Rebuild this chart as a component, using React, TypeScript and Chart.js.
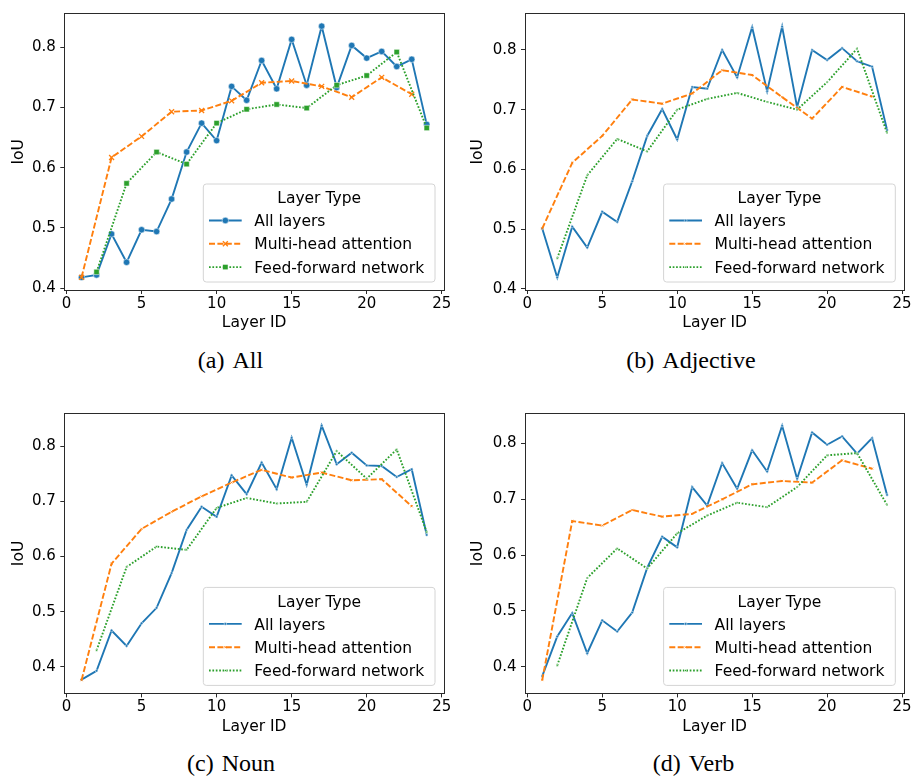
import React, { useEffect, useRef } from "react";
import { Chart, registerables } from "chart.js";

Chart.register(...registerables);

// ---------------- data ----------------
const ALL_LAYERS = [1, 2, 3, 4, 5, 6, 7, 8, 9, 10, 11, 12, 13, 14, 15, 16, 17, 18, 19, 20, 21, 22, 23, 24];
const MHA_LAYERS = [1, 3, 5, 7, 9, 11, 13, 15, 17, 19, 21, 23];
const FFN_LAYERS = [2, 4, 6, 8, 10, 12, 14, 16, 18, 20, 22, 24];

const SERIES_NAMES = ["All layers", "Multi-head attention", "Feed-forward network"];
const LEGEND_TITLE = "Layer Type";
const X_TITLE = "Layer ID";
const Y_TITLE = "IoU";
const X_TICKS = [0, 5, 10, 15, 20, 25];
const Y_TICKS = [0.4, 0.5, 0.6, 0.7, 0.8];

// (a) All
const A_ALL = [0.418, 0.422, 0.490, 0.443, 0.497, 0.494, 0.548, 0.626, 0.674, 0.645, 0.735, 0.712, 0.778, 0.731, 0.813, 0.737, 0.835, 0.733, 0.803, 0.782, 0.793, 0.768, 0.780, 0.672];
const A_MHA = [0.418, 0.617, 0.652, 0.693, 0.695, 0.711, 0.741, 0.744, 0.735, 0.717, 0.750, 0.722];
const A_FFN = [0.427, 0.574, 0.626, 0.606, 0.674, 0.697, 0.705, 0.699, 0.737, 0.753, 0.792, 0.666];

// (b) Adjective
const B_ALL = [0.501, 0.419, 0.504, 0.469, 0.529, 0.512, 0.580, 0.656, 0.701, 0.650, 0.738, 0.735, 0.800, 0.754, 0.838, 0.731, 0.839, 0.704, 0.800, 0.783, 0.803, 0.781, 0.772, 0.666];
const B_MHA = [0.501, 0.611, 0.656, 0.717, 0.710, 0.727, 0.766, 0.758, 0.721, 0.685, 0.738, 0.722];
const B_FFN = [0.451, 0.590, 0.651, 0.630, 0.700, 0.718, 0.728, 0.713, 0.700, 0.746, 0.802, 0.661];

// (c) Noun
const C_ALL = [0.377, 0.393, 0.466, 0.438, 0.479, 0.507, 0.570, 0.648, 0.690, 0.672, 0.747, 0.713, 0.770, 0.722, 0.815, 0.730, 0.837, 0.767, 0.788, 0.765, 0.764, 0.744, 0.758, 0.639];
const C_MHA = [0.376, 0.587, 0.650, 0.681, 0.709, 0.734, 0.757, 0.743, 0.752, 0.738, 0.740, 0.691];
const C_FFN = [0.430, 0.581, 0.618, 0.612, 0.688, 0.706, 0.696, 0.699, 0.791, 0.741, 0.794, 0.644];

// (d) Verb
const D_ALL = [0.383, 0.454, 0.496, 0.424, 0.483, 0.463, 0.497, 0.577, 0.633, 0.614, 0.722, 0.689, 0.765, 0.719, 0.788, 0.750, 0.832, 0.737, 0.820, 0.798, 0.813, 0.782, 0.810, 0.708];
const D_MHA = [0.376, 0.661, 0.653, 0.681, 0.669, 0.674, 0.700, 0.727, 0.733, 0.730, 0.770, 0.755];
const D_FFN = [0.402, 0.559, 0.612, 0.576, 0.639, 0.671, 0.694, 0.686, 0.722, 0.779, 0.783, 0.690];

// ---------------- styling / layout ----------------
const FONT = "'DejaVu Sans', 'Noto Sans', sans-serif";
const XH = 45; // x-axis block height

const SERIES_STYLE = [
  { color: "#1f77b4", dash: [] as number[], point: "circle" },
  { color: "#ff7f0e", dash: [6, 2.4], point: "crossRot" },
  { color: "#2ca02c", dash: [1.7, 1.7], point: "rect" },
];

type PanelDef = {
  label: string;
  name: string;
  all: number[];
  mha: number[];
  ffn: number[];
  yMin: number;
  yMax: number;
  big: boolean;
  cx: number; cy: number; cw: number; ch: number;
  al: number; at: number; ar: number; ab: number;
  capX: number; capY: number;
};

const PANELS: PanelDef[] = [
  { label: "(a)", name: "All", all: A_ALL, mha: A_MHA, ffn: A_FFN, yMin: 0.397, yMax: 0.856, big: true,
    cx: 0, cy: 0, cw: 456, ch: 340, al: 64.3, at: 7.3, ar: 444, ab: 290, capX: 230.5, capY: 362 },
  { label: "(b)", name: "Adjective", all: B_ALL, mha: B_MHA, ffn: B_FFN, yMin: 0.398, yMax: 0.861, big: false,
    cx: 459, cy: 0, cw: 454, ch: 340, al: 525, at: 6.7, ar: 904.3, ab: 290, capX: 691, capY: 362 },
  { label: "(c)", name: "Noun", all: C_ALL, mha: C_MHA, ffn: C_FFN, yMin: 0.352, yMax: 0.859, big: false,
    cx: 0, cy: 400, cw: 456, ch: 340, al: 64.3, at: 410.7, ar: 444, ab: 693.4, capX: 231, capY: 764.5 },
  { label: "(d)", name: "Verb", all: D_ALL, mha: D_MHA, ffn: D_FFN, yMin: 0.352, yMax: 0.854, big: false,
    cx: 459, cy: 400, cw: 454, ch: 340, al: 525, at: 410.7, ar: 904.3, ab: 693.4, capX: 693.5, capY: 764.5 },
];

function alignPx(p: number) {
  return Math.round(p - 0.5) + 0.5;
}

function drawMarker(ctx: CanvasRenderingContext2D, style: string, x: number, y: number, r: number, color: string, big: boolean) {
  ctx.save();
  ctx.setLineDash([]);
  if (style === "circle") {
    ctx.beginPath();
    ctx.arc(x, y, r, 0, Math.PI * 2);
    ctx.fillStyle = color;
    ctx.fill();
    ctx.strokeStyle = "#fff";
    ctx.lineWidth = 0.5;
    ctx.stroke();
  } else if (style === "crossRot") {
    const d = r * Math.SQRT1_2;
    ctx.beginPath();
    ctx.moveTo(x - d, y - d);
    ctx.lineTo(x + d, y + d);
    ctx.moveTo(x - d, y + d);
    ctx.lineTo(x + d, y - d);
    ctx.strokeStyle = color;
    ctx.lineWidth = big ? 1.3 : 0.8;
    ctx.stroke();
  } else {
    const s = r * Math.SQRT1_2;
    ctx.fillStyle = color;
    ctx.fillRect(x - s, y - s, 2 * s, 2 * s);
    ctx.strokeStyle = "#fff";
    ctx.lineWidth = 0.5;
    ctx.strokeRect(x - s, y - s, 2 * s, 2 * s);
  }
  ctx.restore();
}

function Panel({ p }: { p: PanelDef }) {
  const ref = useRef<HTMLCanvasElement | null>(null);

  useEffect(() => {
    if (!ref.current) return;
    const radii = p.big ? [3.2, 3.5, 3.8] : [1.3, 1.5, 1.3];
    const xsList = [ALL_LAYERS, MHA_LAYERS, FFN_LAYERS];
    const ysList = [p.all, p.mha, p.ffn];

    const datasets = SERIES_STYLE.map((s, i) => ({
      label: SERIES_NAMES[i],
      data: xsList[i].map((x, j) => ({ x, y: ysList[i][j] })),
      borderColor: s.color,
      backgroundColor: s.color,
      borderWidth: 1.9,
      borderDash: s.dash,
      pointStyle: s.point as any,
      pointRadius: radii[i],
      pointBackgroundColor: s.color,
      pointBorderColor: s.point === "crossRot" ? s.color : "#ffffff",
      pointBorderWidth: s.point === "crossRot" ? (p.big ? 1.3 : 0.8) : 0.5,
      tension: 0,
      fill: false,
      clip: false as any,
      order: 3 - i,
    }));

    const framePlugin = {
      id: "frameLegend",
      afterDatasetsDraw(chart: any) {
        const ctx: CanvasRenderingContext2D = chart.ctx;
        const a = chart.chartArea;
        ctx.save();
        // frame (spines)
        const l = alignPx(a.left), r = alignPx(a.right), t = alignPx(a.top), b = alignPx(a.bottom);
        ctx.strokeStyle = "#2a2a2a";
        ctx.lineWidth = 1;
        ctx.setLineDash([]);
        ctx.strokeRect(l, t, r - l, b - t);

        // legend
        const bw = 231.7, bh = 98;
        const bx = a.right - 9 - bw;
        const by = a.bottom - 8 - bh;
        ctx.beginPath();
        const rr = 3;
        ctx.moveTo(bx + rr, by);
        ctx.lineTo(bx + bw - rr, by);
        ctx.arcTo(bx + bw, by, bx + bw, by + rr, rr);
        ctx.lineTo(bx + bw, by + bh - rr);
        ctx.arcTo(bx + bw, by + bh, bx + bw - rr, by + bh, rr);
        ctx.lineTo(bx + rr, by + bh);
        ctx.arcTo(bx, by + bh, bx, by + bh - rr, rr);
        ctx.lineTo(bx, by + rr);
        ctx.arcTo(bx, by, bx + rr, by, rr);
        ctx.closePath();
        ctx.fillStyle = "rgba(255,255,255,0.8)";
        ctx.fill();
        ctx.strokeStyle = "#d4d4d4";
        ctx.lineWidth = 1;
        ctx.stroke();

        const fs = 15.5;
        ctx.font = `${fs}px ${FONT}`;
        ctx.fillStyle = "#000";
        ctx.textBaseline = "alphabetic";
        ctx.textAlign = "center";
        const capHalf = 0.729 * fs / 2;
        ctx.fillText(LEGEND_TITLE, bx + bw / 2, by + 13.7 + capHalf);

        ctx.textAlign = "left";
        SERIES_STYLE.forEach((s, i) => {
          const cy = by + 36.5 + 23.3 * i;
          const x0 = bx + 5.7, x1 = bx + 38.4;
          ctx.save();
          ctx.beginPath();
          ctx.setLineDash(s.dash);
          ctx.strokeStyle = s.color;
          ctx.lineWidth = 1.9;
          ctx.moveTo(x0, cy);
          ctx.lineTo(x1, cy);
          ctx.stroke();
          ctx.restore();
          drawMarker(ctx, s.point, (x0 + x1) / 2, cy, radii[i], s.color, p.big);
          ctx.fillStyle = "#000";
          ctx.fillText(SERIES_NAMES[i], bx + 51, cy + capHalf);
        });
        ctx.restore();
      },
    };

    const padTop = p.at - p.cy;
    const padRight = p.cx + p.cw - p.ar;
    const padBottom = p.cy + p.ch - (p.ab + XH);
    const yWidth = p.al - p.cx;

    const chart = new Chart(ref.current, {
      type: "line",
      data: { datasets: datasets as any },
      options: {
        animation: false,
        responsive: false,
        events: [],
        layout: { padding: { left: 0, top: padTop, right: padRight, bottom: padBottom } },
        plugins: {
          legend: { display: false },
          tooltip: { enabled: false },
        },
        scales: {
          x: {
            type: "linear",
            min: -0.15,
            max: 25.15,
            afterBuildTicks: (s: any) => {
              s.ticks = X_TICKS.map((v) => ({ value: v }));
            },
            afterFit: (s: any) => {
              s.height = XH;
            },
            ticks: {
              font: { family: FONT, size: 15 },
              color: "#000",
              padding: 1,
              maxRotation: 0,
              autoSkip: false,
              callback: (v: any) => String(v),
            },
            grid: { display: true, drawOnChartArea: false, drawTicks: true, tickLength: 4, color: "#2a2a2a", lineWidth: 1 },
            border: { display: false },
            title: {
              display: true,
              text: X_TITLE,
              font: { family: FONT, size: 15.5 },
              color: "#000",
              padding: { top: 0, bottom: 2.4 },
            },
          },
          y: {
            type: "linear",
            min: p.yMin,
            max: p.yMax,
            afterBuildTicks: (s: any) => {
              s.ticks = Y_TICKS.map((v) => ({ value: v }));
            },
            afterFit: (s: any) => {
              s.width = yWidth;
            },
            ticks: {
              font: { family: FONT, size: 15 },
              color: "#000",
              padding: 4.5,
              autoSkip: false,
              callback: (v: any) => Number(v).toFixed(1),
            },
            grid: { display: true, drawOnChartArea: false, drawTicks: true, tickLength: 4, color: "#2a2a2a", lineWidth: 1 },
            border: { display: false },
            title: {
              display: true,
              text: Y_TITLE,
              font: { family: FONT, size: 15.5 },
              color: "#000",
              padding: { top: 9.7, bottom: 0 },
            },
          },
        },
      } as any,
      plugins: [framePlugin as any],
    });
    return () => chart.destroy();
  }, [p]);

  return (
    <canvas
      ref={ref}
      width={p.cw}
      height={p.ch}
      style={{ position: "absolute", left: p.cx, top: p.cy, width: p.cw, height: p.ch }}
    />
  );
}

function Caption({ p }: { p: PanelDef }) {
  return (
    <div
      style={{
        position: "absolute",
        left: p.capX - 150,
        top: p.capY - 14,
        width: 300,
        height: 24,
        lineHeight: "24px",
        fontSize: 24,
        fontFamily: "'Liberation Serif', 'Times New Roman', serif",
        textAlign: "center",
        color: "#000",
        whiteSpace: "nowrap",
      }}
    >
      <span>{p.label}</span>
      <span style={{ marginLeft: 8 }}>{p.name}</span>
    </div>
  );
}

export default function App() {
  return (
    <div style={{ position: "absolute", left: 0, top: 0, width: 913, height: 779, background: "#fff", overflow: "hidden" }}>
      {PANELS.map((p) => (
        <Panel key={p.label} p={p} />
      ))}
      {PANELS.map((p) => (
        <Caption key={"c" + p.label} p={p} />
      ))}
    </div>
  );
}
